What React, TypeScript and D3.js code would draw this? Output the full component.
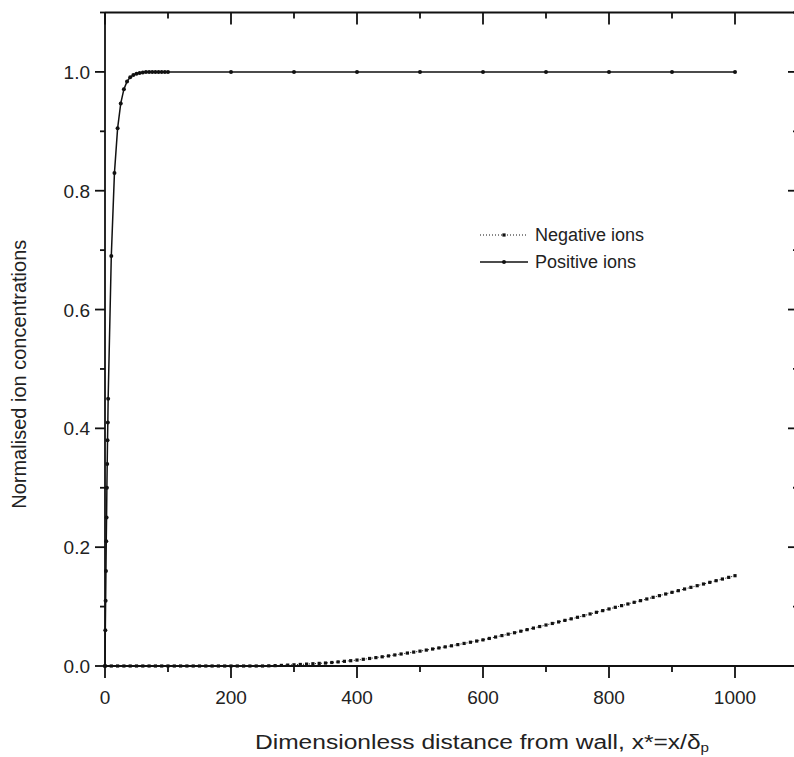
import React from "react";
import * as d3 from "d3";

const posX = [0, 0.5, 1, 1.5, 2, 2.5, 3, 3.5, 4, 4.5, 5, 10, 15, 20, 25, 30, 35, 40, 45, 50, 55, 60, 65, 70, 75, 80, 85, 90, 95, 100, 200, 300, 400, 500, 600, 700, 800, 900, 1000];
const posY = [0, 0.06, 0.11, 0.16, 0.21, 0.25, 0.3, 0.34, 0.38, 0.41, 0.45, 0.69, 0.83, 0.905, 0.947, 0.971, 0.984, 0.991, 0.995, 0.997, 0.998, 0.999, 1, 1, 1, 1, 1, 1, 1, 1, 1, 1, 1, 1, 1, 1, 1, 1, 1];

const negStep = 10;
const negY = [
  0, 0, 0, 0, 0, 0, 0, 0, 0, 0,
  0, 0, 0, 0, 0, 0, 0, 0, 0, 0,
  0, 0, 0, 0, 0, 0, 0.0003, 0.0006, 0.001, 0.0015,
  0.002, 0.0026, 0.0032, 0.0038, 0.0044, 0.005, 0.0059, 0.0069, 0.0079, 0.0089,
  0.01, 0.0113, 0.0127, 0.0141, 0.0155, 0.017, 0.0186, 0.0202, 0.0218, 0.0234,
  0.025, 0.0268, 0.0286, 0.0304, 0.0322, 0.034, 0.036, 0.038, 0.04, 0.042,
  0.044, 0.0464, 0.0488, 0.0512, 0.0536, 0.056, 0.0586, 0.0612, 0.0638, 0.0664,
  0.069, 0.0716, 0.0742, 0.0768, 0.0794, 0.082, 0.0848, 0.0876, 0.0904, 0.0932,
  0.096, 0.0988, 0.1016, 0.1044, 0.1072, 0.11, 0.1128, 0.1156, 0.1184, 0.1212,
  0.124, 0.1268, 0.1296, 0.1324, 0.1352, 0.138, 0.1408, 0.1436, 0.1464, 0.1492,
  0.152,
];

const xMajor = [0, 200, 400, 600, 800, 1000];
const xMinor = [100, 300, 500, 700, 900, 1100];
const yMajor = [0, 0.2, 0.4, 0.6, 0.8, 1.0];
const yMinor = [0.1, 0.3, 0.5, 0.7, 0.9, 1.1];

const legendLabels = ["Negative ions", "Positive ions"];
const xTitle = "Dimensionless distance from wall, x*=x/δ";
const xTitleSub = "p";
const yTitle = "Normalised ion concentrations";

const W = 794;
const H = 757;
const FONT = "Liberation Sans, Arial, sans-serif";

export default function App() {
  const x = d3.scaleLinear().domain([0, 1100]).range([105, 798]);
  const y = d3.scaleLinear().domain([0, 1.1]).range([666, 12.5]);

  const posData = posX.map((v, i) => [v, posY[i]] as [number, number]);
  const negData = negY.map((v, i) => [i * negStep, v] as [number, number]);
  const line = d3.line<[number, number]>().x((d) => x(d[0])).y((d) => y(d[1]));

  const x0 = x(0);
  const x1 = x(1100);
  const y0 = y(0);
  const y1 = y(1.1);

  return (
    <svg
      width={W}
      height={H}
      style={{ position: "absolute", left: 0, top: 0, background: "#fff" }}
      fontFamily={FONT}
    >
      <rect x={0} y={0} width={W} height={H} fill="#fff" />
      {/* series */}
      <path d={line(negData) || ""} fill="none" stroke="#111" strokeWidth={1} strokeDasharray="1,2" />
      {negData.map((d, i) => (
        <rect key={"n" + i} x={x(d[0]) - 1.6} y={y(d[1]) - 1.6} width={3.2} height={3.2} fill="#111" />
      ))}
      <path d={line(posData) || ""} fill="none" stroke="#111" strokeWidth={1.5} />
      {posData.map((d, i) => (
        <circle key={"p" + i} cx={x(d[0])} cy={y(d[1])} r={2} fill="#111" />
      ))}

      {/* frame */}
      <g stroke="#111" strokeWidth={1.8} fill="none">
        <line x1={x0} y1={y0} x2={x1} y2={y0} />
        <line x1={x0} y1={y1} x2={x1} y2={y1} />
        <line x1={x0} y1={y0} x2={x0} y2={y1} />
        <line x1={x1} y1={y0} x2={x1} y2={y1} />
      </g>
      {/* ticks */}
      <g stroke="#111" strokeWidth={1.8}>
        {xMajor.map((v) => (
          <g key={"xM" + v}>
            <line x1={x(v)} x2={x(v)} y1={y0} y2={y0 + 12} />
            <line x1={x(v)} x2={x(v)} y1={y1} y2={y1 + 12} />
          </g>
        ))}
        {xMinor.map((v) => (
          <g key={"xm" + v}>
            <line x1={x(v)} x2={x(v)} y1={y0} y2={y0 + 6} />
            <line x1={x(v)} x2={x(v)} y1={y1} y2={y1 + 6} />
          </g>
        ))}
        {yMajor.map((v) => (
          <g key={"yM" + v}>
            <line x1={x0} x2={x0 - 10} y1={y(v)} y2={y(v)} />
            <line x1={x1} x2={x1 - 10} y1={y(v)} y2={y(v)} />
          </g>
        ))}
        {yMinor.map((v) => (
          <g key={"ym" + v}>
            <line x1={x0} x2={x0 - 5} y1={y(v)} y2={y(v)} />
            <line x1={x1} x2={x1 - 5} y1={y(v)} y2={y(v)} />
          </g>
        ))}
      </g>
      {/* tick labels */}
      <g fontSize={19} fill="#222">
        {xMajor.map((v) => (
          <text key={"xl" + v} x={x(v)} y={y0 + 38} textAnchor="middle">
            {d3.format("d")(v)}
          </text>
        ))}
        {yMajor.map((v) => (
          <text key={"yl" + v} x={x0 - 15} y={y(v) + 7} textAnchor="end">
            {d3.format(".1f")(v)}
          </text>
        ))}
      </g>
      {/* titles */}
      <text
        transform="translate(482, 749) scale(1.17, 1)"
        fontSize={21}
        textAnchor="middle"
        fill="#222"
      >
        {xTitle}
        <tspan fontSize={13} dy={3}>{xTitleSub}</tspan>
      </text>
      <text
        transform={`translate(26, ${(y0 + y1) / 2 + 35}) rotate(-90)`}
        fontSize={20}
        textAnchor="middle"
        fill="#222"
      >
        {yTitle}
      </text>
      {/* legend */}
      <g>
        <line x1={480} x2={528} y1={235} y2={235} stroke="#111" strokeWidth={1} strokeDasharray="1,2" />
        <rect x={502.4} y={233.4} width={3.2} height={3.2} fill="#111" />
        <text x={535} y={241} fontSize={18} fill="#222">{legendLabels[0]}</text>
        <line x1={480} x2={528} y1={262} y2={262} stroke="#111" strokeWidth={1.5} />
        <circle cx={504} cy={262} r={2} fill="#111" />
        <text x={535} y={268} fontSize={18} fill="#222">{legendLabels[1]}</text>
      </g>
    </svg>
  );
}
